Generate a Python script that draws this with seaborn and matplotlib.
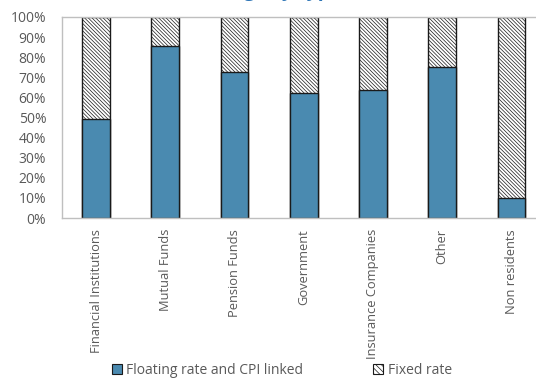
import matplotlib
matplotlib.use("Agg")
import matplotlib.pyplot as plt
import seaborn as sns
import pandas as pd
from matplotlib.patches import Patch

categories = ["Financial Institutions", "Mutual Funds", "Pension Funds", "Government",
              "Insurance Companies", "Other", "Non residents"]
floating_cpi = [49.3, 85.5, 72.5, 62.0, 63.5, 75.0, 10.0]
fixed_rate = [50.7, 14.5, 27.5, 38.0, 36.5, 25.0, 90.0]
y_ticks = [0, 10, 20, 30, 40, 50, 60, 70, 80, 90, 100]

sns.set_theme(style="white")
plt.rcParams["font.family"] = ["Open Sans", "DejaVu Sans"]
plt.rcParams["hatch.linewidth"] = 0.5

BLUE = "#4a8ab0"
GREY_TXT = "#595959"
AXIS = "#bfbfbf"
HATCH = "\\" * 9

df = pd.DataFrame({"category": categories, "floating": floating_cpi, "fixed": fixed_rate})
df["total"] = df["floating"] + df["fixed"]

fig = plt.figure(figsize=(5.36, 3.78), dpi=100)
ax = fig.add_axes([61.5 / 536, 1 - 218 / 378, (546 - 61.5) / 536, (218 - 17) / 378])

# stacked bars: the full-height hatched bar is the fixed-rate share on top
sns.barplot(data=df, x="category", y="total", color="white", width=0.40,
            edgecolor="#1a1a1a", linewidth=1.0, hatch=HATCH, saturation=1,
            ax=ax, errorbar=None)
sns.barplot(data=df, x="category", y="floating", color=BLUE, width=0.40,
            edgecolor="#1a1a1a", linewidth=1.0, saturation=1, ax=ax, errorbar=None)

ax.set_ylim(0, 100)
ax.set_xlim(-0.5, len(categories) - 0.5)
ax.set_yticks(y_ticks)
ax.set_yticklabels([f"{t}%" for t in y_ticks], color=GREY_TXT, fontsize=10)
ax.set_xticks(range(len(categories)))
ax.set_xticklabels(categories, rotation=90, color=GREY_TXT, fontsize=9.3)
ax.set_xlabel("")
ax.set_ylabel("")
ax.tick_params(axis="x", length=0, pad=8)
ax.tick_params(axis="y", direction="in", length=4, color=AXIS, width=0.8, pad=11)
ax.set_xticks([i + 0.5 for i in range(len(categories) - 1)], minor=True)
ax.tick_params(axis="x", which="minor", direction="in", length=4, color=AXIS, width=0.8)
for s in ax.spines.values():
    s.set_color(AXIS)
    s.set_linewidth(1.0)

# chart title, mostly above the visible area
fig.text(0.487, 1.0 + 4 / 378, "Holdings by type", ha="center", va="baseline",
         fontsize=14, fontweight="bold", color="#2e75b6")

handles = [Patch(facecolor=BLUE, edgecolor="#1a1a1a", linewidth=0.8),
           Patch(facecolor="white", edgecolor="#1a1a1a", linewidth=0.8, hatch="\\\\\\\\\\\\")]
fig.legend(handles, ["Floating rate and CPI linked", "Fixed rate"], loc="center left",
           bbox_to_anchor=(99 / 536, 1 - 370 / 378), ncol=2, frameon=False,
           fontsize=10, labelcolor=GREY_TXT, handlelength=0.72, handleheight=0.72,
           handletextpad=0.36, columnspacing=5.0)

fig.savefig("out.png", dpi=100)
